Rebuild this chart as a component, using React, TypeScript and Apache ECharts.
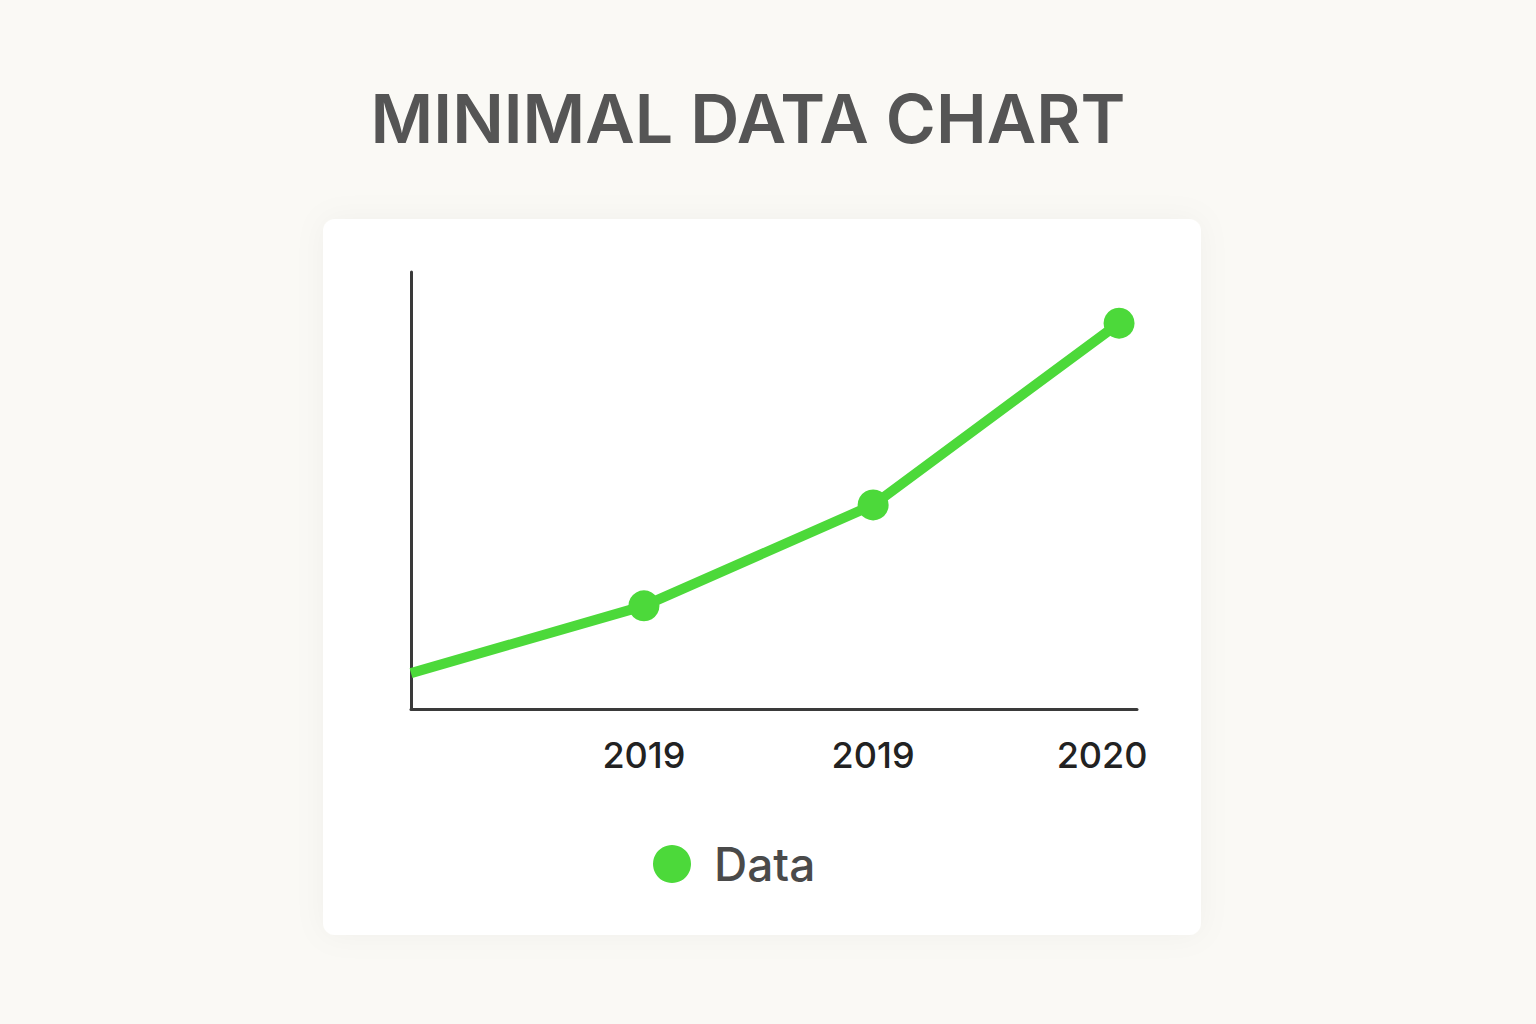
import React, { useEffect, useRef } from "react";
import * as echarts from "echarts";

const xValues = [0, 0.987, 1.958, 3];
const yValues = [8.2, 23.6, 46.7, 88.3];
const showMarker = [false, true, true, true];
const tickLabels = ["", "2019", "2019", "2020"];
const seriesName = "Data";
const titleText = "MINIMAL DATA CHART";

export default function App() {
  const ref = useRef<HTMLDivElement>(null);
  useEffect(() => {
    document.body.style.margin = "0";
    const chart = echarts.init(ref.current!, null, { renderer: "svg" });
    const green = "#4cd93a";
    const labelValues = xValues.slice(1);
    chart.setOption({
      animation: false,
      backgroundColor: "#faf9f5",
      graphic: [
        {
          type: "rect",
          z: -10,
          shape: { x: 323, y: 219, width: 878, height: 716, r: 12 },
          style: {
            fill: "#ffffff",
            shadowBlur: 30,
            shadowColor: "rgba(0,0,0,0.04)",
          },
        },
        {
          type: "text",
          x: 748,
          y: 118,
          style: {
            text: titleText,
            fill: "#555555",
            font: '600 68px Inter, "Open Sans", sans-serif',
            align: "center",
            verticalAlign: "middle",
          },
        },
      ],
      legend: {
        left: 653,
        top: 841,
        padding: 0,
        icon: "circle",
        itemWidth: 38,
        itemHeight: 38,
        itemGap: 10,
        textStyle: {
          fontSize: 46,
          fontWeight: 500,
          color: "#4a4a4a",
          fontFamily: "Inter, sans-serif",
          padding: [0, 0, 0, 18],
        },
        data: [seriesName],
      },
      grid: { left: 411, right: 399, top: 272, bottom: 315, containLabel: false },
      xAxis: {
        type: "value",
        min: 0,
        max: 3.076,
        axisLine: { show: true, lineStyle: { color: "#3a3a3a", width: 3 } },
        axisTick: { show: false },
        splitLine: { show: false },
        axisLabel: {
          margin: 28,
          fontSize: 36,
          fontWeight: 500,
          color: "#222222",
          fontFamily: "Inter, sans-serif",
          customValues: labelValues,
          formatter: (v: number) => {
            const i = xValues.findIndex((x) => Math.abs(x - v) < 1e-6);
            const t = i >= 0 ? tickLabels[i] : "";
            if (i === xValues.length - 1) return "{last|" + t + "}";
            return t;
          },
          rich: {
            last: {
              fontSize: 36,
              fontWeight: 500,
              color: "#222222",
              fontFamily: "Inter, sans-serif",
              padding: [0, 34, 0, 0],
            },
          },
        },
      },
      yAxis: {
        type: "value",
        min: 0,
        max: 100,
        axisLine: { show: true, lineStyle: { color: "#3a3a3a", width: 3 } },
        axisTick: { show: false },
        axisLabel: { show: false },
        splitLine: { show: false },
      },
      series: [
        {
          name: seriesName,
          type: "line",
          data: xValues.map((x, i) => ({
            value: [x, yValues[i]],
            symbolSize: showMarker[i] ? 31 : 0,
          })),
          symbol: "circle",
          showSymbol: true,
          lineStyle: { color: green, width: 10 },
          itemStyle: { color: green },
          clip: false,
        },
      ],
    });
    return () => chart.dispose();
  }, []);
  return <div ref={ref} style={{ position: "fixed", left: 0, top: 0, width: 1536, height: 1024 }} />;
}
